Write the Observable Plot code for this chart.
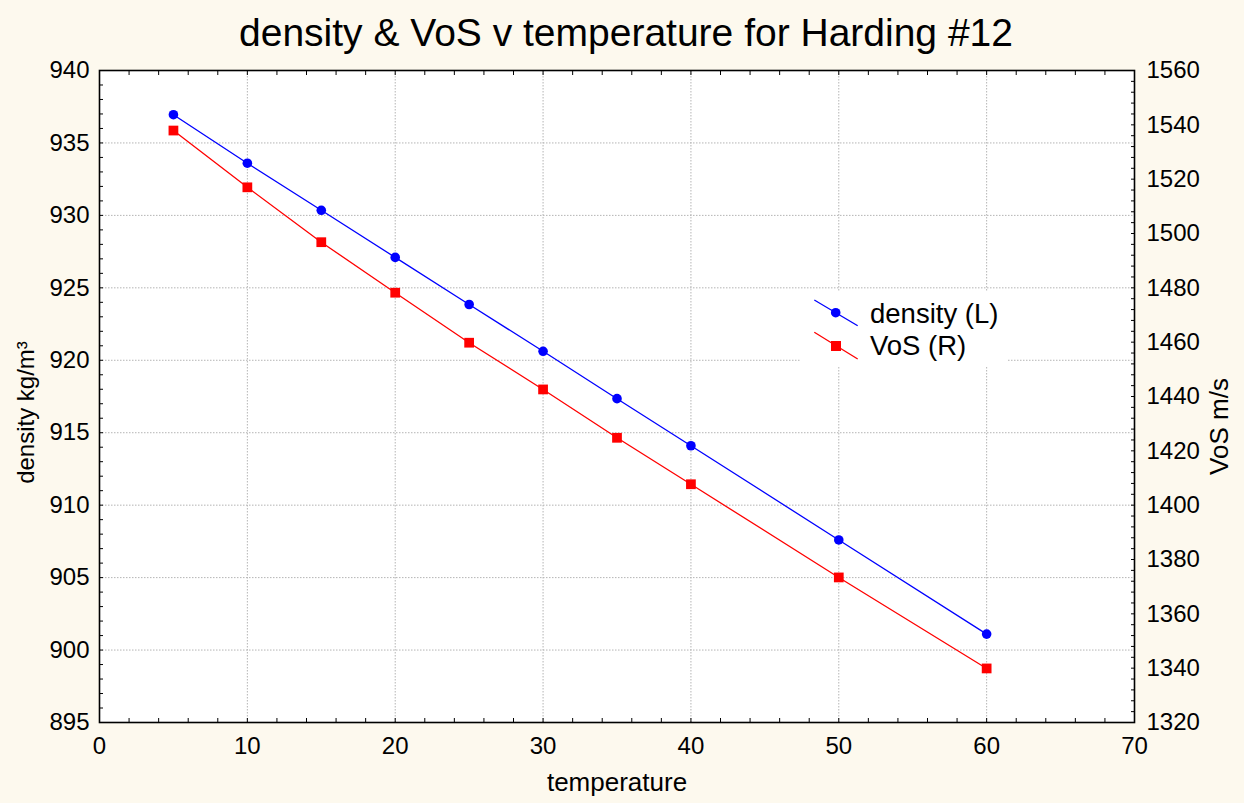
<!DOCTYPE html>
<html>
<head>
<meta charset="utf-8">
<script src="https://cdn.jsdelivr.net/npm/d3@7"></script>
<script src="https://cdn.jsdelivr.net/npm/@observablehq/plot@0.6"></script>
<style>
  html, body { margin: 0; padding: 0; background: #fdf9ee; }
  #wrap { position: relative; width: 1244px; height: 803px; font-family: "Liberation Sans", Arial, sans-serif; color: #000; }
  #title { height: 55px; box-sizing: border-box; padding-top: 12px; font-size: 39px; line-height: 41px; text-align: center; white-space: nowrap; padding-left: 8px; }
  #legend { position: absolute; left: 800px; top: 291px; width: 207px; height: 75px; background: #fff; }
  #legend svg { position: absolute; left: 0; top: 0; }
</style>
</head>
<body>
<div id="wrap">
  <div id="title">density &amp; VoS v temperature for Harding #12</div>
  <div id="chart"></div>
  <div id="legend"></div>
</div>
<script>
// ---- data ----
const temperature = [5, 10, 15, 20, 25, 30, 35, 40, 50, 60];
const density = [936.95, 933.6, 930.35, 927.1, 923.85, 920.62, 917.35, 914.1, 907.6, 901.1];
const vos = [1537.9, 1517.0, 1496.8, 1478.2, 1459.8, 1442.6, 1424.8, 1407.7, 1373.4, 1339.9];

const xTicks = [0, 10, 20, 30, 40, 50, 60, 70];
const densityTicks = [895, 900, 905, 910, 915, 920, 925, 930, 935, 940];
const vosTicks = [1320, 1340, 1360, 1380, 1400, 1420, 1440, 1460, 1480, 1500, 1520, 1540, 1560];
const xMinor = d3.range(0, 71, 2);
const densityMinor = d3.range(895, 941, 1);
const vosMinor = d3.range(1320, 1561, 4);

const seriesNames = ["density (L)", "VoS (R)"];
const seriesColors = ["#0000ff", "#ff0000"];
const titles = { x: "temperature", left: "density kg/m³", right: "VoS m/s" };

// right-axis (VoS) <-> left-axis (density) mapping
const [dMin, dMax] = [densityTicks[0], densityTicks[densityTicks.length - 1]];
const [vMin, vMax] = [vosTicks[0], vosTicks[vosTicks.length - 1]];
const toLeft = v => dMin + (v - vMin) * (dMax - dMin) / (vMax - vMin);
const fromLeft = d => vMin + (d - dMin) * (vMax - vMin) / (dMax - dMin);

const rows = temperature.map((t, i) => ({ t, density: density[i], vos: vos[i], vosL: toLeft(vos[i]) }));

const gridStyle = { stroke: "#b4b4b4", strokeOpacity: 1, strokeWidth: 1, strokeDasharray: "1.5,1.5" };

const chart = Plot.plot({
  width: 1244,
  height: 748,
  marginTop: 15,
  marginBottom: 81,
  marginLeft: 99,
  marginRight: 110,
  x: { domain: [xTicks[0], xTicks[xTicks.length - 1]] },
  y: { domain: [dMin, dMax] },
  style: { background: "transparent", fontFamily: "'Liberation Sans', Arial, sans-serif", fontSize: "24px", color: "#000", overflow: "visible" },
  marks: [
    Plot.frame({ fill: "#fff", stroke: null }),
    Plot.gridX({ ticks: xTicks, ...gridStyle }),
    Plot.gridY({ ticks: densityTicks, ...gridStyle }),
    // density series
    Plot.line(rows, { x: "t", y: "density", stroke: seriesColors[0], strokeWidth: 1.3 }),
    Plot.dot(rows, { x: "t", y: "density", r: 4.8, fill: seriesColors[0], stroke: null }),
    // VoS series (right axis)
    Plot.line(rows, { x: "t", y: "vosL", stroke: seriesColors[1], strokeWidth: 1.3 }),
    Plot.dot(rows, { x: "t", y: "vosL", symbol: "square", r: 5.5, fill: seriesColors[1], stroke: null }),
    // axes: labels
    Plot.axisX({ anchor: "bottom", ticks: xTicks, tickSize: 0, tickPadding: 14, label: null }),
    Plot.axisY({ anchor: "left", ticks: densityTicks, tickSize: 0, tickPadding: 10, label: null }),
    Plot.axisY({ anchor: "right", ticks: vosTicks.map(toLeft), tickFormat: d => String(Math.round(fromLeft(d))), tickSize: 0, tickPadding: 12, label: null }),
    // axes: inward ticks
    Plot.axisX({ anchor: "bottom", ticks: xMinor, tickSize: -4, fill: "none", label: null }),
    Plot.axisX({ anchor: "top", ticks: xMinor, tickSize: -4, fill: "none", label: null }),
    Plot.axisY({ anchor: "left", ticks: densityMinor, tickSize: -4, fill: "none", label: null }),
    Plot.axisY({ anchor: "right", ticks: vosMinor.map(toLeft), tickSize: -4, fill: "none", label: null }),
    Plot.frame({ stroke: "#000", strokeWidth: 1.6 }),
    // axis titles
    Plot.text([titles.x], { text: d => d, frameAnchor: "bottom", textAnchor: "middle", lineAnchor: "middle", dy: 60, fontSize: 26 }),
    Plot.text([titles.left], { text: d => d, frameAnchor: "left", textAnchor: "middle", lineAnchor: "middle", dx: -73, dy: 16, rotate: -90, fontSize: 24 }),
    Plot.text([titles.right], { text: d => d, frameAnchor: "right", textAnchor: "middle", lineAnchor: "middle", dx: 85, dy: 30, rotate: -90, fontSize: 26 })
  ]
});
document.getElementById("chart").appendChild(chart);

// ---- legend ----
const lg = d3.select("#legend").append("svg").attr("width", 207).attr("height", 75)
  .style("font-family", "'Liberation Sans', Arial, sans-serif");
const ox = 800, oy = 291;
// density entry
lg.append("line").attr("x1", 814.3 - ox).attr("y1", 300 - oy).attr("x2", 857.7 - ox).attr("y2", 325.7 - oy)
  .attr("stroke", seriesColors[0]).attr("stroke-width", 1.3);
lg.append("circle").attr("cx", 835.7 - ox).attr("cy", 312.7 - oy).attr("r", 4.8).attr("fill", seriesColors[0]);
lg.append("text").attr("x", 870 - ox).attr("y", 323.3 - oy).attr("font-size", 27.5).text(seriesNames[0]);
// VoS entry
lg.append("line").attr("x1", 814.3 - ox).attr("y1", 332.3 - oy).attr("x2", 857.7 - ox).attr("y2", 359 - oy)
  .attr("stroke", seriesColors[1]).attr("stroke-width", 1.3);
lg.append("rect").attr("x", 836 - 5 - ox).attr("y", 346 - 5 - oy).attr("width", 10).attr("height", 10).attr("fill", seriesColors[1]);
lg.append("text").attr("x", 870 - ox).attr("y", 355 - oy).attr("font-size", 27.5).text(seriesNames[1]);
</script>
</body>
</html>
